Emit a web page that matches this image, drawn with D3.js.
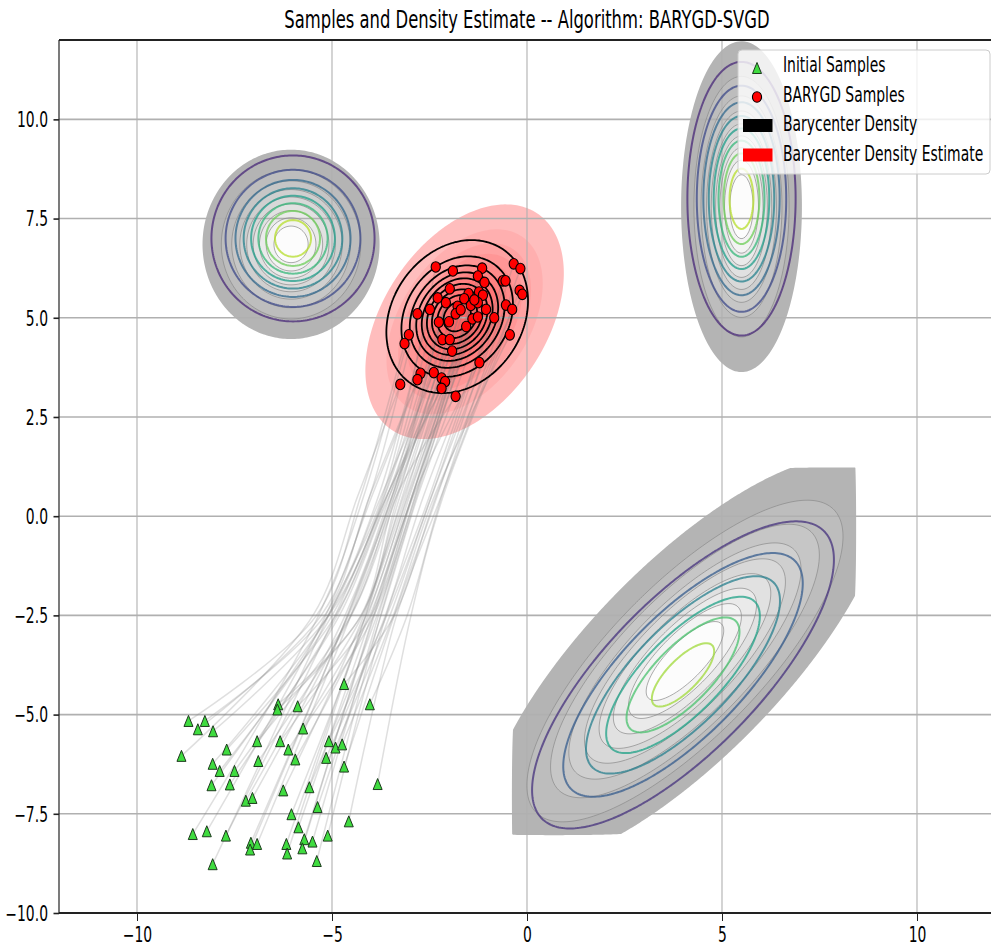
<!DOCTYPE html>
<html>
<head>
<meta charset="utf-8">
<script src="https://cdn.jsdelivr.net/npm/d3@7"></script>
<style>
  body { margin: 0; background: #fff; }
  svg { display: block; }
</style>
</head>
<body>
<svg id="chart" width="991" height="950"></svg>
<script>
// ---- data ----
const xTicks = [-10, -5, 0, 5, 10]
const yTicks = [-10, -7.5, -5, -2.5, 0, 2.5, 5, 7.5, 10]

const initialX = [-4.69,-4.03,-6.38,-6.40,-5.88,-8.68,-8.26,-8.44,-8.05,-5.74,-8.86,-7.70,-6.92,-6.33,-6.12,-5.08,-4.91,-4.74,-5.15,-4.69,-8.06,-7.88,-7.50,-6.89,-5.94,-8.09,-7.62,-3.83,-6.25,-5.58,-7.21,-7.04,-5.37,-6.04,-4.57,-5.86,-8.57,-8.21,-7.72,-5.11,-5.71,-5.50,-7.08,-6.92,-7.10,-6.17,-6.15,-5.76,-5.39,-8.06]
const initialY = [-4.23,-4.74,-4.74,-4.87,-4.79,-5.16,-5.16,-5.37,-5.42,-5.35,-6.04,-5.88,-5.67,-5.67,-5.88,-5.67,-5.83,-5.75,-6.09,-6.31,-6.24,-6.42,-6.42,-6.17,-6.13,-6.78,-6.76,-6.75,-6.91,-6.83,-7.17,-7.10,-7.33,-7.51,-7.69,-7.84,-8.01,-7.94,-8.05,-8.05,-8.14,-8.20,-8.23,-8.26,-8.40,-8.26,-8.50,-8.37,-8.69,-8.77]

const finalX = [-2.34,-1.90,-1.15,-1.26,-1.09,-0.34,-0.17,-0.62,-0.55,-0.19,-0.12,-1.98,-1.50,-1.61,-1.23,-1.13,-2.29,-2.08,-1.44,-1.26,-1.05,-1.78,-2.49,-2.81,-1.83,-0.54,-0.38,-0.84,-1.40,-1.26,-2.26,-1.56,-3.03,-3.14,-2.17,-1.98,-1.92,-0.44,-1.22,-2.73,-2.81,-2.39,-2.19,-2.10,-2.19,-3.25,-1.83,-1.70,-2.00,-1.35]
const finalY = [6.28,6.18,6.25,6.05,5.89,6.36,6.24,5.93,5.93,5.69,5.59,5.73,5.61,5.48,5.65,5.57,5.50,5.38,5.31,5.38,5.21,5.29,5.21,5.10,5.10,5.32,5.21,5.00,4.97,5.02,4.89,4.78,4.57,4.35,4.45,4.45,4.16,4.57,3.87,3.60,3.44,3.62,3.48,3.39,3.22,3.32,3.02,5.20,4.90,5.45]

// where the gray trajectories bunch up on their way (x at two heights)
const bundleX = [-4.3, -3.2]
const bundleY = [-2.5, 0.5]

// the three input densities (true contours in viridis)
const refMeans = [[-6, 7], [5.5, 8], [4, -4]]
const refCovs = [[[1, 0], [0, 1]], [[0.44, 0], [0, 2.72]], [[4, 3], [3, 4]]]
const refLevelDiv = [8.9, 8.9, 6.5]
const refLevelCount = [8, 8, 6]

// their sample KDEs (gray fills)
const kdeMeans = [[-6.05, 6.85], [5.5, 7.8], [4.05, -3.65]]
const kdeCovs = [[[0.86, 0], [0, 0.95]], [[0.40, 0], [0, 2.9]], [[4.42, 3.42], [3.42, 4.42]]]
const kdeBoxes = [null, null, [[-0.38, 8.46], [-8.04, 1.23]]]
const isoLevels = [0.05, 0.156, 0.261, 0.367, 0.472, 0.578, 0.683, 0.789, 0.894]

// barycenter density (black) and its estimate (red)
const baryMean = [-1.79, 5.03]
const baryCov = [[0.55, 0.12], [0.12, 0.62]]
const estMean = [-1.6, 4.9]
const estCov = [[1.08, 0.52], [0.52, 1.46]]

const legendLabels = ["Initial Samples", "BARYGD Samples", "Barycenter Density", "Barycenter Density Estimate"]

// ---- layout ----
const width = 991
const height = 950
const margin = { left: 59, top: 40, right: 995, bottom: 913 }
const sx = 0.68   // picture is squeezed sideways; text is narrowed to match
const font = "DejaVu Sans, sans-serif"

const svg = d3.select("#chart")
const xScale = d3.scaleLinear().domain([-12, 12]).range([margin.left, margin.right])
const yScale = d3.scaleLinear().domain([-10, 12]).range([margin.bottom, margin.top])

svg.append("defs").append("clipPath").attr("id", "plot-clip")
  .append("rect")
  .attr("x", margin.left).attr("y", margin.top)
  .attr("width", width - margin.left).attr("height", margin.bottom - margin.top)

const plot = svg.append("g").attr("clip-path", "url(#plot-clip)")

// density grid in pixel space
const step = 2
const nx = Math.ceil((width - margin.left) / step) + 1
const ny = Math.ceil((margin.bottom - margin.top) / step) + 1
const contours = d3.contours().size([nx, ny])
const geo = d3.geoPath(d3.geoIdentity().scale(step).translate([margin.left - step / 2, margin.top - step / 2]))

function gauss(mean, cov, box) {
  const [[a, c], [, b]] = cov
  const det = a * b - c * c
  return (px, py) => {
    if (box && (px < box[0][0] || px > box[0][1] || py < box[1][0] || py > box[1][1])) return 0
    const dx = px - mean[0], dy = py - mean[1]
    return Math.exp(-0.5 * (b * dx * dx - 2 * c * dx * dy + a * dy * dy) / det)
  }
}

function grid(f) {
  const v = new Float64Array(nx * ny)
  for (let j = 0; j < ny; j++) {
    const py = yScale.invert(margin.top + j * step)
    for (let i = 0; i < nx; i++) {
      v[j * nx + i] = f(xScale.invert(margin.left + i * step), py)
    }
  }
  return v
}

// gray KDE fills
const kdeGrids = kdeMeans.map((m, i) => grid(gauss(m, kdeCovs[i], kdeBoxes[i])))
kdeGrids.forEach(v => {
  plot.append("g").selectAll("path")
    .data(contours.thresholds(isoLevels)(v))
    .join("path")
    .attr("d", geo)
    .attr("fill", (d, k) => d3.rgb(180 + k * 9, 180 + k * 9, 180 + k * 9))
})

// red estimate fills
const estGrid = grid(gauss(estMean, estCov))
plot.append("g").selectAll("path")
  .data(contours.thresholds(isoLevels)(estGrid))
  .join("path")
  .attr("d", geo)
  .attr("fill", "red")
  .attr("fill-opacity", (d, k) => k === 0 ? 0.26 : 0.07)

// grid lines
plot.append("g").selectAll("line")
  .data(xTicks)
  .join("line")
  .attr("x1", d => xScale(d)).attr("x2", d => xScale(d))
  .attr("y1", margin.top).attr("y2", margin.bottom)
  .attr("stroke", "#b0b0b0").attr("stroke-width", 1.1)
plot.append("g").selectAll("line")
  .data(yTicks)
  .join("line")
  .attr("x1", margin.left).attr("x2", width)
  .attr("y1", d => yScale(d)).attr("y2", d => yScale(d))
  .attr("stroke", "#b0b0b0").attr("stroke-width", 1.6)

// trajectories: pair samples in x order
const startOrder = d3.range(initialX.length).sort((a, b) => initialX[a] - initialX[b])
const endOrder = d3.range(finalX.length).sort((a, b) => finalX[a] - finalX[b])
const meanStart = d3.mean(initialX)
const meanEnd = d3.mean(finalX)
const trajectories = startOrder.map((s, k) => {
  const e = endOrder[k]
  return [
    [initialX[s], initialY[s]],
    [bundleX[0] + 0.5 * (initialX[s] - meanStart), bundleY[0]],
    [bundleX[1] + 0.7 * (finalX[e] - meanEnd), bundleY[1]],
    [finalX[e], finalY[e]]
  ]
})
const trajLine = d3.line()
  .x(d => xScale(d[0]))
  .y(d => yScale(d[1]))
  .curve(d3.curveCatmullRom.alpha(0.5))
plot.append("g").selectAll("path")
  .data(trajectories)
  .join("path")
  .attr("d", trajLine)
  .attr("fill", "none")
  .attr("stroke", "#808080")
  .attr("stroke-opacity", 0.25)
  .attr("stroke-width", 1.5)

// thin KDE contour lines
kdeGrids.forEach(v => {
  plot.append("g").selectAll("path")
    .data(contours.thresholds(isoLevels.slice(1))(v))
    .join("path")
    .attr("d", geo)
    .attr("fill", "none")
    .attr("stroke", "#8a8a8a")
    .attr("stroke-opacity", 0.7)
    .attr("stroke-width", 1)
})

// true density contours, viridis
refMeans.forEach((m, i) => {
  const n = refLevelCount[i]
  const levels = d3.range(1, n + 1).map(k => k / refLevelDiv[i])
  plot.append("g").selectAll("path")
    .data(contours.thresholds(levels)(grid(gauss(m, refCovs[i]))))
    .join("path")
    .attr("d", geo)
    .attr("fill", "none")
    .attr("stroke", (d, k) => d3.interpolateViridis((k + 1) / (n + 1)))
    .attr("stroke-opacity", 0.75)
    .attr("stroke-width", 2)
})

// barycenter density, black
plot.append("g").selectAll("path")
  .data(contours.thresholds(isoLevels)(grid(gauss(baryMean, baryCov))))
  .join("path")
  .attr("d", geo)
  .attr("fill", "none")
  .attr("stroke", "#000")
  .attr("stroke-width", 1.8)

// markers
const triW = 9, triH = 11
const triangle = `M0,${-triH / 2}L${triW / 2},${triH / 2}L${-triW / 2},${triH / 2}Z`
plot.append("g").selectAll("path")
  .data(d3.range(initialX.length))
  .join("path")
  .attr("d", triangle)
  .attr("transform", i => `translate(${xScale(initialX[i])},${yScale(initialY[i])})`)
  .attr("fill", "#3fdc3f")
  .attr("stroke", "#1d3a1d")
  .attr("stroke-width", 1)

plot.append("g").selectAll("ellipse")
  .data(d3.range(finalX.length))
  .join("ellipse")
  .attr("cx", i => xScale(finalX[i]))
  .attr("cy", i => yScale(finalY[i]))
  .attr("rx", 4.6).attr("ry", 5.3)
  .attr("fill", "red")
  .attr("stroke", "#000")
  .attr("stroke-width", 1.1)

// spines
svg.append("line").attr("x1", margin.left).attr("x2", width).attr("y1", margin.top).attr("y2", margin.top)
  .attr("stroke", "#222").attr("stroke-width", 2)
svg.append("line").attr("x1", margin.left).attr("x2", width).attr("y1", margin.bottom).attr("y2", margin.bottom)
  .attr("stroke", "#222").attr("stroke-width", 2)
svg.append("line").attr("x1", margin.left).attr("x2", margin.left).attr("y1", margin.top).attr("y2", margin.bottom)
  .attr("stroke", "#222").attr("stroke-width", 1.2)

// axes
const yAxis = svg.append("g")
  .attr("transform", `translate(${margin.left},0)`)
  .call(d3.axisLeft(yScale).tickValues(yTicks).tickSize(5.5).tickFormat(d3.format(".1f")))
yAxis.select(".domain").remove()
yAxis.selectAll(".tick line").attr("stroke-width", 1.6).attr("stroke", "#222")
yAxis.selectAll(".tick text")
  .attr("font-family", font).attr("font-size", 20.5)
  .attr("transform", `scale(${sx},1)`)
  .attr("x", -11 / sx).attr("dy", "0.36em").attr("fill", "#000")

const xAxis = svg.append("g")
  .attr("transform", `translate(0,${margin.bottom})`)
  .call(d3.axisBottom(xScale).tickValues(xTicks).tickSize(8).tickFormat(d3.format("d")))
xAxis.select(".domain").remove()
xAxis.selectAll(".tick line").attr("stroke-width", 1).attr("stroke", "#222")
xAxis.selectAll(".tick text")
  .attr("font-family", font).attr("font-size", 20.5)
  .attr("transform", `scale(${sx},1)`)
  .attr("y", 29).attr("dy", 0).attr("fill", "#000")

function label(str, px, py, size, scaleX, anchor) {
  svg.append("g")
    .attr("transform", `translate(${px},${py}) scale(${scaleX},1)`)
    .append("text")
    .attr("text-anchor", anchor)
    .attr("font-family", font)
    .attr("font-size", size)
    .attr("fill", "#000")
    .text(str)
}

label("Samples and Density Estimate -- Algorithm: BARYGD-SVGD", (margin.left + margin.right) / 2, 28, 25, 0.656, "middle")

// legend
const legend = svg.append("g").attr("transform", "translate(738,50)")
legend.append("rect")
  .attr("width", 252).attr("height", 124).attr("rx", 4)
  .attr("fill", "#fff").attr("fill-opacity", 0.8)
  .attr("stroke", "#cccccc").attr("stroke-width", 1)
legend.append("path").attr("d", triangle).attr("transform", "translate(19,18)")
  .attr("fill", "#3fdc3f").attr("stroke", "#1d3a1d").attr("stroke-width", 1)
legend.append("ellipse").attr("cx", 19).attr("cy", 47).attr("rx", 4.6).attr("ry", 5.3)
  .attr("fill", "red").attr("stroke", "#000").attr("stroke-width", 1.1)
legend.append("rect").attr("x", 5).attr("y", 69).attr("width", 29.5).attr("height", 13).attr("fill", "#000")
legend.append("rect").attr("x", 5).attr("y", 98.5).attr("width", 29.5).attr("height", 13).attr("fill", "red")
legendLabels.forEach((t, i) => label(t, 783, 72 + i * 29.5, 20.5, sx, "start"))
</script>
</body>
</html>
